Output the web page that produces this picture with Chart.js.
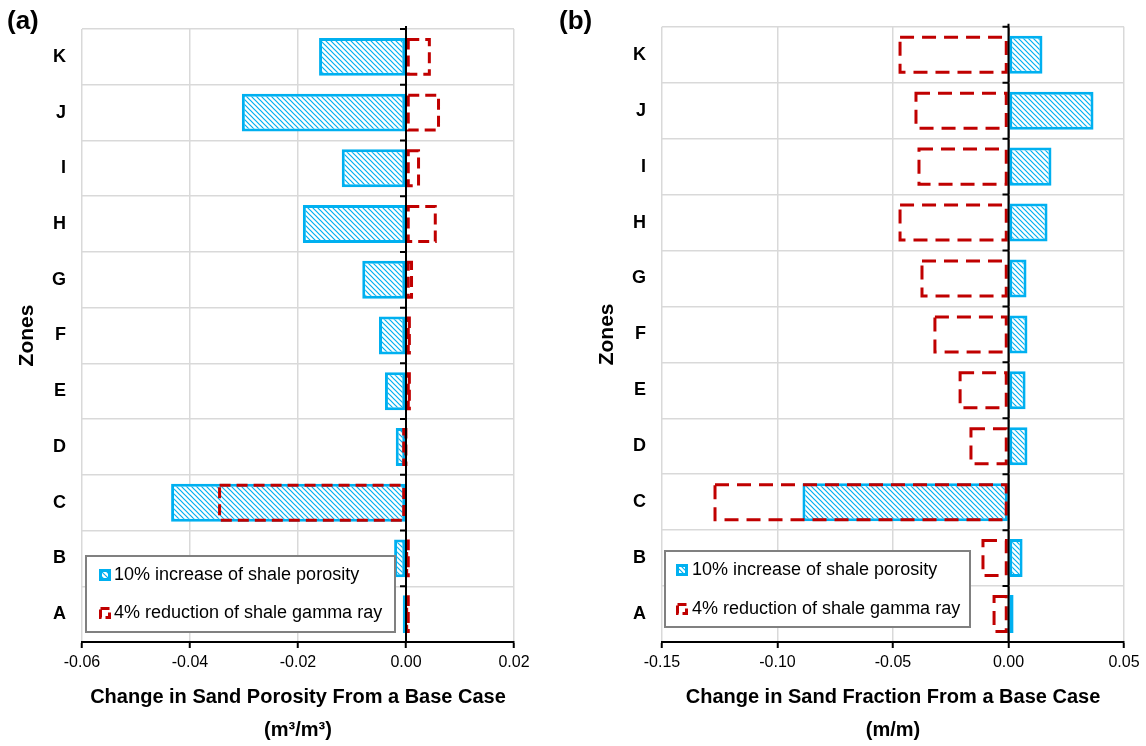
<!DOCTYPE html>
<html>
<head>
<meta charset="utf-8">
<title>Zones sensitivity</title>
<script src="https://cdn.jsdelivr.net/npm/chart.js@4.4.0/dist/chart.umd.min.js"></script>
<style>
  body { margin: 0; background: #fff; width: 1146px; height: 746px; overflow: hidden; position: relative;
         font-family: "Liberation Sans", Arial, sans-serif; }
  .panel { position: absolute; top: 0; height: 746px; }
  #wrapA { left: 0; width: 560px; }
  #wrapB { left: 580px; width: 566px; }
  .tag { position: absolute; top: 5px; font-weight: bold; font-size: 26px; color: #000; }
</style>
</head>
<body>
<div class="panel" id="wrapA"><canvas id="chartA"></canvas></div>
<div class="panel" id="wrapB"><canvas id="chartB"></canvas></div>
<div class="tag" style="left:7px">(a)</div>
<div class="tag" style="left:559px">(b)</div>
<script>
const zones = ["A", "B", "C", "D", "E", "F", "G", "H", "I", "J", "K"];
const seriesNames = ["10% increase of shale porosity", "4% reduction of shale gamma ray"];

// (a) change in sand porosity, m3/m3
const porosityShale = [-0.0006, -0.0022, -0.0435, -0.0019, -0.0039, -0.0050, -0.0081, -0.0191, -0.0119, -0.0304, -0.0161];
const porosityGamma = [0.0004, 0.0004, -0.0348, -0.0003, 0.0009, 0.0009, 0.0013, 0.0057, 0.0026, 0.0063, 0.0046];

// (b) change in sand fraction, m/m
const fractionShale = [0.0022, 0.0061, -0.0892, 0.0082, 0.0074, 0.0082, 0.0078, 0.0169, 0.0186, 0.0368, 0.0147];
const fractionGamma = [-0.0069, -0.0117, -0.1277, -0.0169, -0.0216, -0.0325, -0.0381, -0.0476, -0.0394, -0.0407, -0.0476];

const ticksA = [-0.06, -0.04, -0.02, 0.00, 0.02];
const ticksB = [-0.15, -0.10, -0.05, 0.00, 0.05];

const BLUE = "#00b0f0";
const RED = "#c00000";
const GRID = "#d9d9d9";
const FONT = '"Liberation Sans", Arial, sans-serif';

function hatch(color) {
  const s = 5;
  const c = document.createElement("canvas");
  c.width = s;
  c.height = s;
  const g = c.getContext("2d");
  g.fillStyle = "#fff";
  g.fillRect(0, 0, s, s);
  g.strokeStyle = color;
  g.lineWidth = 1.2;
  g.beginPath();
  g.moveTo(-1, -1); g.lineTo(s + 1, s + 1);
  g.moveTo(s - 1, -1); g.lineTo(s + 1, 1);
  g.moveTo(-1, s - 1); g.lineTo(1, s + 1);
  g.stroke();
  return g.createPattern(c, "repeat");
}

// dashed outlines for the gamma-ray series, zero line with its small ticks, and the boxed legend
const overlay = {
  id: "overlay",
  afterDatasetsDraw(chart, args, opts) {
    const ctx = chart.ctx;
    const area = chart.chartArea;
    ctx.save();
    ctx.strokeStyle = RED;
    ctx.lineWidth = 3;
    ctx.setLineDash(opts.dash);
    chart.getDatasetMeta(1).data.forEach((bar) => {
      const p = bar.getProps(["x", "y", "base", "height"], true);
      const l = Math.min(p.x, p.base);
      const r = Math.max(p.x, p.base);
      ctx.strokeRect(l + 1.5, p.y - p.height / 2 + 1.5, r - l - 3, p.height - 3);
    });

    const xs = chart.scales.x;
    const ys = chart.scales.y;
    const x0 = xs.getPixelForValue(0);
    ctx.setLineDash([]);
    ctx.strokeStyle = "#000";
    ctx.lineWidth = 2;
    ctx.beginPath();
    ctx.moveTo(x0, area.top - 3);
    ctx.lineTo(x0, area.bottom);
    for (let i = 0; i <= zones.length; i++) {
      const yy = ys.getPixelForValue(i - 0.5);
      ctx.moveTo(x0 - 6, yy);
      ctx.lineTo(x0, yy);
    }
    ctx.stroke();
    ctx.restore();
  },
  afterDraw(chart, args, opts) {
    const ctx = chart.ctx;
    const area = chart.chartArea;
    const bx = area.left + opts.left;
    const by = area.bottom - opts.bottom - opts.h;
    ctx.save();
    ctx.fillStyle = "#fff";
    ctx.fillRect(bx, by, opts.w, opts.h);
    ctx.strokeStyle = "#808080";
    ctx.lineWidth = 2;
    ctx.strokeRect(bx, by, opts.w, opts.h);
    ctx.font = "18px " + FONT;
    ctx.textBaseline = "middle";
    seriesNames.forEach((name, i) => {
      const cy = by + opts.rowTop + i * opts.rowGap;
      const sx = bx + opts.swatch;
      if (i === 0) {
        ctx.fillStyle = BLUE;
        ctx.fillRect(sx, cy - 6, 12, 12);
        ctx.fillStyle = chart.data.datasets[0].backgroundColor;
        ctx.fillRect(sx + 3, cy - 3, 6, 6);
      } else {
        ctx.strokeStyle = RED;
        ctx.lineWidth = 3;
        ctx.setLineDash([9, 4]);
        ctx.strokeRect(sx + 1.5, cy - 4.5, 9, 9);
        ctx.setLineDash([]);
      }
      ctx.fillStyle = "#000";
      ctx.fillText(name, bx + opts.text, cy);
    });
    ctx.restore();
  }
};

function makeChart(id, shale, gamma, ticks, xTitle, unit, o) {
  return new Chart(document.getElementById(id), {
    type: "bar",
    data: {
      labels: zones,
      datasets: [
        {
          label: seriesNames[0],
          data: shale,
          backgroundColor: hatch(BLUE),
          borderColor: BLUE,
          borderWidth: 3,
          borderSkipped: false,
          grouped: false,
          barPercentage: 0.68,
          categoryPercentage: 1
        },
        {
          label: seriesNames[1],
          data: gamma,
          backgroundColor: "rgba(0,0,0,0)",
          borderWidth: 0,
          grouped: false,
          barPercentage: 0.68,
          categoryPercentage: 1
        }
      ]
    },
    plugins: [overlay],
    options: {
      indexAxis: "y",
      responsive: true,
      maintainAspectRatio: false,
      animation: false,
      layout: {padding: {top: o.top, right: o.right, left: 0, bottom: 0}},
      plugins: {
        legend: {display: false},
        tooltip: {enabled: false},
        overlay: o.legend
      },
      scales: {
        x: {
          type: "linear",
          min: ticks[0],
          max: ticks[ticks.length - 1],
          afterBuildTicks: (s) => { s.ticks = ticks.map((v) => ({value: v})); },
          afterFit: (s) => { s.height = 104; },
          grid: {
            color: (c) => (c.tick && Math.abs(c.tick.value) < 1e-9 ? "#000" : GRID),
            lineWidth: 1.5,
            tickLength: 6,
            tickColor: "#000",
            tickWidth: 2
          },
          border: {color: "#000", width: 2},
          ticks: {
            font: {size: 16, family: FONT},
            color: "#000",
            padding: 5,
            callback: (v) => (Math.abs(v) < 1e-9 ? "0.00" : Number(v).toFixed(2))
          },
          title: {
            display: true,
            text: [xTitle, unit],
            color: "#000",
            font: {size: 20, weight: "bold", family: FONT, lineHeight: 1.65},
            padding: {top: 0, bottom: -0.5}
          }
        },
        y: {
          reverse: true,
          afterFit: (s) => { s.width = 82; },
          grid: {color: GRID, lineWidth: 1.5, drawTicks: false},
          border: {display: false},
          ticks: {font: {size: 18, weight: "bold", family: FONT}, color: "#000", padding: 16},
          title: {
            display: true,
            text: "Zones",
            color: "#000",
            font: {size: 21, weight: "bold", family: FONT},
            padding: {top: 15, bottom: 0}
          }
        }
      }
    }
  });
}

makeChart("chartA", porosityShale, porosityGamma, ticksA,
  "Change in Sand Porosity From a Base Case", "(m³/m³)",
  {top: 29, right: 46, legend: {dash: [11, 6], left: 4, bottom: 10, w: 309, h: 76, rowTop: 19, rowGap: 38, swatch: 13, text: 28}});

makeChart("chartB", fractionShale, fractionGamma, ticksB,
  "Change in Sand Fraction From a Base Case", "(m/m)",
  {top: 24, right: 22, legend: {dash: [14, 8], left: 3, bottom: 15, w: 305, h: 76, rowTop: 19, rowGap: 39, swatch: 11, text: 27}});
</script>
</body>
</html>
